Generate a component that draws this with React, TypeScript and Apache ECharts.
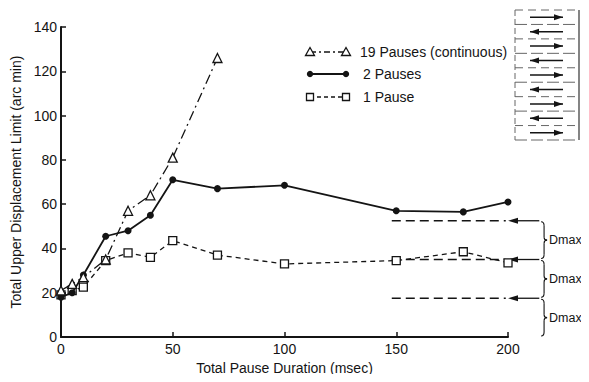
import React, { useEffect, useRef } from "react";
import * as echarts from "echarts";

const FONT = "'Liberation Sans', Arial, Helvetica, sans-serif";
const INK = "#141414";

// Data (x = total pause duration in msec, y = arc min)
const triX = [0, 5, 10, 20, 30, 40, 50, 70];
const triY = [21, 24, 27, 35, 57, 64, 81, 126];
const pauseX = [0, 5, 10, 20, 30, 40, 50, 70, 100, 150, 180, 200];
const twoPauseY = [18, 20, 28, 45.5, 48, 55, 71, 67, 68.5, 57, 56.5, 61];
const onePauseY = [19, 21, 22.5, 34.5, 38, 36, 43.5, 37, 33, 34.5, 38.5, 33.5];

const legendLabels = ["19 Pauses (continuous)", "2 Pauses", "1 Pause"];
const xTitle = "Total Pause Duration (msec)";
const yTitle = "Total Upper Displacement Limit (arc min)";

// Dmax annotation levels (arc min)
const dmaxLevels = [52.5, 35, 17.5, 0];
const dmaxLabel = "Dmax";
const dashFromX = 148;
const dashToX = 199;
const arrowTipX = 200;
const arrowTailX = 214;
const braceX = 214.8;

// inset stimulus diagram arrow directions
const insetArrows = ["right", "left", "right", "left", "right", "left", "right", "left", "right"];

function zip(xs: number[], ys: number[]) {
  return xs.map((x, i) => [x, ys[i]]);
}

export default function App() {
  const ref = useRef<HTMLDivElement>(null);
  useEffect(() => {
    if (!ref.current) return;
    const chart = echarts.init(ref.current, undefined, { renderer: "svg" });
    const axisCommon = {
      type: "value" as const,
      axisLine: { show: true, lineStyle: { color: INK, width: 2 } },
      axisTick: { show: true, inside: true, length: 5, lineStyle: { color: INK, width: 1.5 } },
      axisLabel: { color: INK, fontSize: 14, fontFamily: FONT },
      splitLine: { show: false },
      nameLocation: "middle" as const,
      nameTextStyle: { color: INK, fontSize: 14, fontFamily: FONT },
    };
    chart.setOption({
      animation: false,
      backgroundColor: "#ffffff",
      grid: { left: 61, top: 27, width: 447, height: 310, containLabel: false },
      xAxis: {
        ...axisCommon,
        min: 0,
        max: 200,
        interval: 50,
        name: xTitle,
        nameGap: 24,
        axisLabel: { ...axisCommon.axisLabel, margin: 5 },
      },
      yAxis: {
        ...axisCommon,
        min: 0,
        max: 140,
        interval: 20,
        name: yTitle,
        nameGap: 32,
        axisLabel: { ...axisCommon.axisLabel, margin: 4 },
      },
      series: [
        {
          type: "line",
          name: legendLabels[2],
          data: zip(pauseX, onePauseY),
          symbol: "rect",
          symbolSize: 8,
          itemStyle: { color: "#fff", borderColor: INK, borderWidth: 1.3 },
          lineStyle: { color: INK, width: 1.3, type: [5, 4] },
          z: 3,
        },
        {
          type: "line",
          name: legendLabels[1],
          data: zip(pauseX, twoPauseY),
          symbol: "circle",
          symbolSize: 7,
          itemStyle: { color: INK, borderColor: INK, borderWidth: 0 },
          lineStyle: { color: INK, width: 1.8 },
          z: 4,
        },
        {
          type: "line",
          name: legendLabels[0],
          data: zip(triX, triY),
          symbol: "triangle",
          symbolSize: 9,
          itemStyle: { color: "#fff", borderColor: INK, borderWidth: 1.3 },
          lineStyle: { color: INK, width: 1.3, type: [10, 4, 2, 4] },
          z: 5,
        },
      ],
    });

    const p = (x: number, y: number) => chart.convertToPixel({ gridIndex: 0 }, [x, y]) as number[];
    const g: any[] = [];
    const stroke = { stroke: INK, lineWidth: 1.3, fill: "none" };

    // Dmax dashed lines + arrows
    for (let i = 0; i < 3; i++) {
      const lvl = dmaxLevels[i];
      const a = p(dashFromX, lvl);
      const b = p(dashToX, lvl);
      g.push({ type: "line", shape: { x1: a[0], y1: a[1], x2: b[0], y2: b[1] }, style: { ...stroke, lineDash: [9, 5] } });
      const tip = p(arrowTipX, lvl);
      const tail = p(arrowTailX, lvl);
      g.push({ type: "line", shape: { x1: tail[0], y1: tail[1], x2: tip[0] + 6, y2: tip[1] }, style: { ...stroke } });
      g.push({
        type: "polygon",
        shape: { points: [[tip[0], tip[1]], [tip[0] + 10, tip[1] - 3], [tip[0] + 10, tip[1] + 3]] },
        style: { fill: INK, stroke: "none" },
      });
    }
    // braces
    for (let i = 0; i < 3; i++) {
      const top = p(braceX, dmaxLevels[i]);
      const bot = p(braceX, dmaxLevels[i + 1]);
      const x0 = top[0];
      const t = top[1] + 1;
      const b = bot[1] - 1;
      const m = (t + b) / 2;
      const w = 6;
      const xm = x0 + w / 2;
      const bs = { ...stroke, lineWidth: 1.1 };
      g.push({ type: "bezierCurve", shape: { x1: x0, y1: t, x2: xm, y2: t + 4, cpx1: xm, cpy1: t }, style: bs });
      g.push({ type: "line", shape: { x1: xm, y1: t + 4, x2: xm, y2: m - 3 }, style: bs });
      g.push({ type: "bezierCurve", shape: { x1: xm, y1: m - 3, x2: x0 + w, y2: m, cpx1: xm, cpy1: m }, style: bs });
      g.push({ type: "bezierCurve", shape: { x1: x0 + w, y1: m, x2: xm, y2: m + 3, cpx1: xm, cpy1: m }, style: bs });
      g.push({ type: "line", shape: { x1: xm, y1: m + 3, x2: xm, y2: b - 4 }, style: bs });
      g.push({ type: "bezierCurve", shape: { x1: xm, y1: b - 4, x2: x0, y2: b, cpx1: xm, cpy1: b }, style: bs });
      g.push({
        type: "text",
        x: x0 + 8,
        y: m,
        style: { text: dmaxLabel, fill: INK, font: `12.5px ${FONT}`, verticalAlign: "middle", align: "left" },
      });
    }

    // Legend
    const legX1 = 310;
    const legX2 = 346;
    const legRows = [52, 74, 97];
    const legTextX = [360, 363, 363];
    legRows.forEach((y, i) => {
      const dash = i === 0 ? [6, 3, 2, 3] : i === 2 ? [4, 3] : null;
      g.push({
        type: "line",
        shape: { x1: legX1, y1: y, x2: legX2, y2: y },
        style: { stroke: INK, lineWidth: i === 1 ? 1.8 : 1.3, lineDash: dash },
      });
      [legX1, legX2].forEach((cx) => {
        if (i === 0) {
          g.push({
            type: "polygon",
            shape: { points: [[cx, y - 4.5], [cx + 4.5, y + 3.5], [cx - 4.5, y + 3.5]] },
            style: { fill: "#fff", stroke: INK, lineWidth: 1.3 },
          });
        } else if (i === 1) {
          g.push({ type: "circle", shape: { cx, cy: y, r: 3.2 }, style: { fill: INK } });
        } else {
          g.push({ type: "rect", shape: { x: cx - 3.5, y: y - 3.5, width: 7, height: 7 }, style: { fill: "#fff", stroke: INK, lineWidth: 1.3 } });
        }
      });
      g.push({
        type: "text",
        x: legTextX[i],
        y,
        style: { text: legendLabels[i], fill: INK, font: `14px ${FONT}`, verticalAlign: "middle", align: "left" },
      });
    });

    // Inset stimulus diagram
    const bx0 = 515, bx1 = 579, by0 = 10, by1 = 140;
    const cellH = (by1 - by0) / insetArrows.length;
    g.push({ type: "line", shape: { x1: bx0, y1: by0, x2: bx0, y2: by1 }, style: { stroke: "#666", lineWidth: 1, lineDash: [6, 3] } });
    g.push({ type: "line", shape: { x1: bx1, y1: by0, x2: bx1, y2: by1 }, style: { stroke: "#333", lineWidth: 1.2 } });
    for (let k = 0; k <= insetArrows.length; k++) {
      const y = by0 + k * cellH;
      g.push({ type: "line", shape: { x1: bx0, y1: y, x2: bx1, y2: y }, style: { stroke: "#666", lineWidth: 1, lineDash: k % 2 ? [12, 4] : [8, 5] } });
    }
    insetArrows.forEach((dir, k) => {
      const y = by0 + (k + 0.5) * cellH;
      const xl = 530, xr = 563;
      g.push({ type: "line", shape: { x1: xl, y1: y, x2: xr, y2: y }, style: { stroke: INK, lineWidth: 1.5 } });
      const tip = dir === "right" ? xr : xl;
      const s = dir === "right" ? -1 : 1;
      g.push({
        type: "polygon",
        shape: { points: [[tip, y], [tip + s * 9, y - 3], [tip + s * 9, y + 3]] },
        style: { fill: INK },
      });
    });

    chart.setOption({ graphic: g });
    return () => chart.dispose();
  }, []);
  return <div ref={ref} style={{ width: 589, height: 382, margin: -8 }} />;
}
